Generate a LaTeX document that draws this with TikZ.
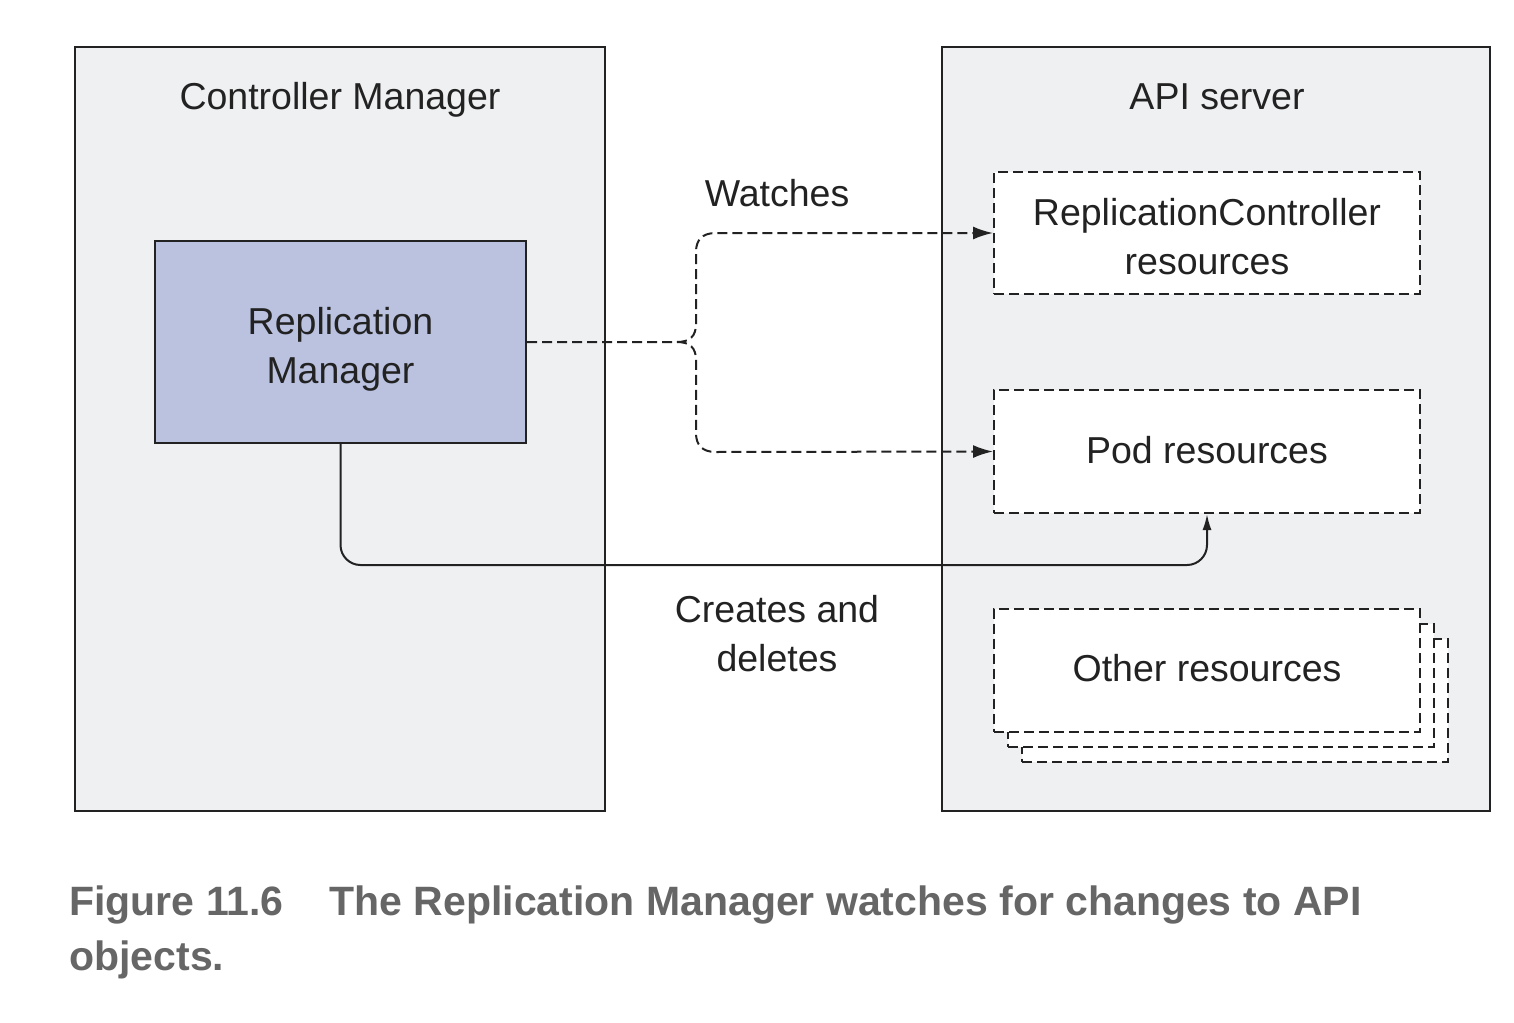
\documentclass[tikz,border=0pt]{standalone}
\usepackage{fontspec}
\setmainfont{Liberation Sans}
\usetikzlibrary{arrows.meta}
\definecolor{panelgray}{HTML}{EFF0F2}
\definecolor{rmblue}{HTML}{BAC2E0}
\definecolor{ink}{HTML}{222222}
\definecolor{capgray}{HTML}{666666}
\tikzset{
  panel/.style={draw=ink, line width=1pt, fill=panelgray, rectangle, inner sep=0pt},
  resbox/.style={draw=ink, line width=1pt, dash pattern=on 5pt off 2.5pt, fill=white, rectangle, inner sep=0pt, minimum width=213pt},
  lbl/.style={font=\fontsize{18.75}{24.5}\selectfont, align=center, text=ink, inner sep=0pt},
  dconn/.style={draw=ink, line width=1pt, dash pattern=on 5pt off 2.5pt, -{Latex[length=10pt,width=6.5pt]}},
  sconn/.style={draw=ink, line width=1pt, rounded corners=10pt, -{Latex[length=8pt,width=4.5pt]}},
}
\begin{document}
\begin{tikzpicture}[x=0.5pt,y=-0.5pt]
\useasboundingbox (0,0) rectangle (1514,1022);
% panels
\node[panel, minimum width=265pt, minimum height=382pt] (cm) at (340,429) {};
\node[panel, minimum width=274pt, minimum height=382pt] (api) at (1216,429) {};
\node[lbl, anchor=base] (cmt) at (340,110) {Controller Manager};
\node[lbl, anchor=base] (apit) at (1217,110) {API server};
% boxes
\node[draw=ink, line width=1pt, fill=rmblue, minimum width=185.5pt, minimum height=101pt, inner sep=0pt] (rm) at (340.5,342) {};
\node[lbl] (rmt) at (340.5,349) {Replication\\Manager};
\coordinate (j) at (677,342);
\node[resbox, minimum height=61pt] (rc) at (1207,233) {};
\node[lbl] (rct) at (1207,237) {ReplicationController\\resources};
\node[resbox, minimum height=61.5pt] (pod) at (1207,451.5) {};
\node[lbl] (podt) at (1207,450) {Pod resources};
\node[resbox, minimum height=61.5pt] (oth3) at (1235,700) {};
\node[resbox, minimum height=61.5pt] (oth2) at (1221,685) {};
\node[resbox, minimum height=61.5pt] (oth) at (1207,670) {};
\node[lbl] (otht) at (1207,668) {Other resources};
% connectors
\draw[dconn] (rm.east) -- (j) .. controls (690,342) and (696,336) .. (696,324) -- (696,252) .. controls (696,240) and (702,233) .. (716,233) -- (rc.west);
\draw[dconn] (j) .. controls (690,342) and (696,348) .. (696,360) -- (696,433) .. controls (696,445) and (702,452) .. (716,452) -- (pod.west);
\draw[sconn] (rm.south) |- (1207,565) -- (pod.south);
\node[lbl] (w) at (777,193) {Watches};
\node[lbl] (cd) at (777,634) {Creates and\\deletes};
% caption
\node[anchor=base west, inner sep=0pt, text=capgray, align=left, font=\fontsize{20.5}{27.5}\selectfont\bfseries] (cap) at (69,970) {Figure 11.6\hspace{23pt}The Replication Manager watches for changes to API\\objects.};
\end{tikzpicture}
\end{document}
